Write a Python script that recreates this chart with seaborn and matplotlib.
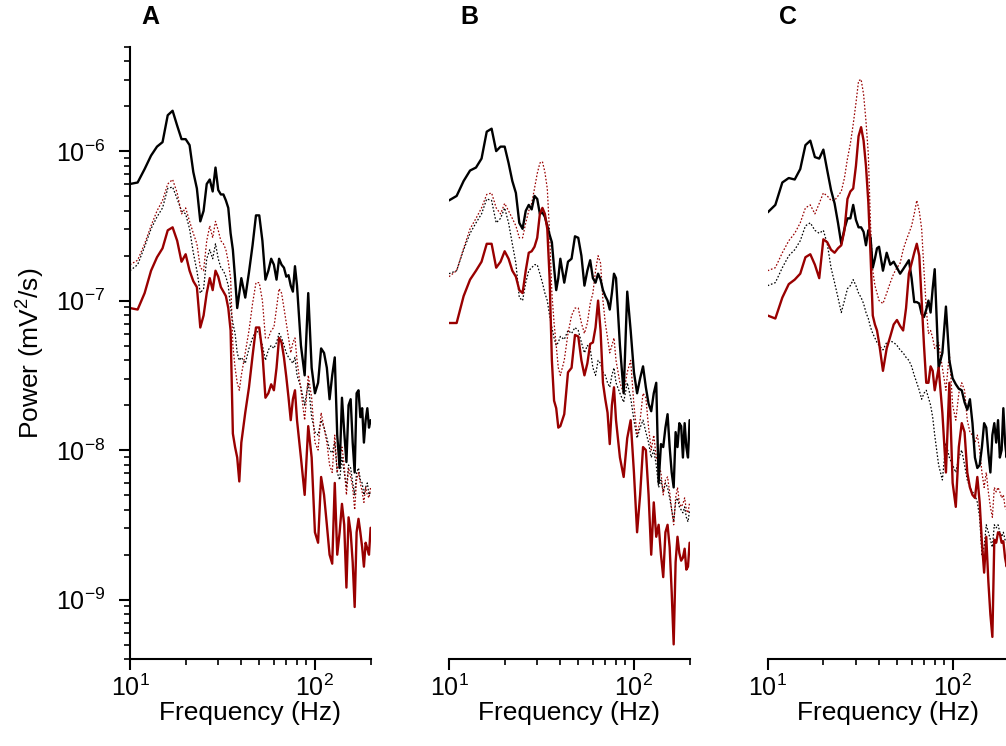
import matplotlib
matplotlib.use('Agg')
import matplotlib.pyplot as plt
import numpy as np
import seaborn as sns

# frequency grid (Hz)
freq = [10, 11, 12, 13, 14, 15, 16, 17, 18, 19,
        20, 21, 22, 23, 24, 25, 26, 27, 28, 29,
        30, 31, 32, 33, 34, 35, 36, 37, 38, 39,
        40, 42, 44, 46, 48, 50, 52, 54, 56, 58,
        60, 62, 64, 66, 68, 70, 72, 74, 76, 78,
        80, 84, 88, 92, 96, 100, 104, 108, 112, 116,
        120, 124, 128, 132, 136, 140, 144, 148, 152, 156,
        160, 164, 168, 172, 176, 180, 184, 188, 192, 196,
        200]

# log10 power (mV^2/s)
a_black = [-6.22, -6.21, -6.12, -6.03, -5.97, -5.94, -5.76, -5.73, -5.83, -5.92,
           -5.92, -5.96, -6.14, -6.25, -6.47, -6.40, -6.22, -6.19, -6.27, -6.11,
           -6.26, -6.29, -6.29, -6.33, -6.38, -6.55, -6.66, -6.85, -7.05, -6.95,
           -6.85, -6.98, -6.81, -6.63, -6.43, -6.43, -6.60, -6.86, -6.80, -6.72,
           -6.76, -6.86, -6.72, -6.76, -6.78, -6.84, -6.83, -6.90, -6.94, -6.77,
           -6.90, -7.30, -7.50, -6.95, -7.45, -7.62, -7.55, -7.32, -7.35, -7.45,
           -7.66, -7.50, -7.38, -7.90, -8.12, -7.65, -7.88, -8.08, -7.70, -7.66,
           -7.95, -8.15, -7.62, -7.60, -7.78, -7.72, -7.95, -7.80, -7.72, -7.85,
           -7.80]
a_red = [-7.05, -7.06, -6.95, -6.80, -6.71, -6.65, -6.53, -6.51, -6.60, -6.74,
         -6.69, -6.80, -6.87, -6.91, -7.18, -7.10, -6.95, -6.85, -6.93, -6.80,
         -6.84, -6.91, -6.94, -6.97, -7.05, -7.20, -7.89, -7.98, -8.05, -8.21,
         -7.95, -7.75, -7.58, -7.37, -7.18, -7.18, -7.35, -7.65, -7.62, -7.56,
         -7.60, -7.45, -7.25, -7.28, -7.38, -7.51, -7.65, -7.80, -7.66, -7.60,
         -7.80, -8.05, -8.30, -7.84, -8.05, -8.55, -8.62, -8.18, -8.30, -8.50,
         -8.70, -8.76, -8.22, -8.70, -8.55, -8.36, -8.50, -8.92, -8.45, -8.55,
         -8.75, -9.05, -8.55, -8.46, -8.55, -8.65, -8.78, -8.62, -8.66, -8.70,
         -8.52]
a_red_dot = [-6.76, -6.73, -6.62, -6.50, -6.40, -6.33, -6.22, -6.19, -6.28, -6.42,
             -6.38, -6.47, -6.55, -6.62, -6.78, -6.80, -6.60, -6.50, -6.58, -6.47,
             -6.53, -6.60, -6.62, -6.66, -6.74, -6.85, -7.30, -7.45, -7.55, -7.60,
             -7.50, -7.35, -7.20, -7.02, -6.88, -6.88, -7.00, -7.25, -7.25, -7.20,
             -7.18, -7.05, -6.92, -6.95, -7.05, -7.15, -7.25, -7.35, -7.28, -7.25,
             -7.40, -7.60, -7.80, -7.50, -7.65, -7.95, -8.00, -7.75, -7.85, -7.95,
             -8.10, -8.15, -7.90, -8.15, -8.05, -7.98, -8.10, -8.30, -8.12, -8.18,
             -8.25, -8.40, -8.20, -8.15, -8.22, -8.28, -8.35, -8.25, -8.30, -8.32,
             -8.25]
a_black_dot = [-6.80, -6.76, -6.64, -6.52, -6.44, -6.38, -6.25, -6.24, -6.32, -6.40,
               -6.42, -6.52, -6.68, -6.80, -6.95, -6.92, -6.72, -6.66, -6.72, -6.62,
               -6.72, -6.78, -6.80, -6.84, -6.90, -7.05, -7.15, -7.22, -7.35, -7.40,
               -7.38, -7.42, -7.32, -7.25, -7.20, -7.22, -7.30, -7.40, -7.33, -7.30,
               -7.32, -7.28, -7.22, -7.25, -7.30, -7.35, -7.38, -7.40, -7.42, -7.38,
               -7.50, -7.58, -7.70, -7.55, -7.78, -7.88, -7.90, -7.80, -7.85, -7.92,
               -8.00, -8.02, -7.95, -8.15, -8.20, -8.05, -8.15, -8.25, -8.10, -8.12,
               -8.22, -8.30, -8.15, -8.12, -8.20, -8.22, -8.30, -8.25, -8.22, -8.30,
               -8.28]

b_black = [-6.33, -6.30, -6.20, -6.13, -6.11, -6.05, -5.87, -5.85, -6.00, -5.97,
           -5.97, -6.08, -6.20, -6.28, -6.48, -6.52, -6.40, -6.36, -6.39, -6.30,
           -6.32, -6.42, -6.41, -6.44, -6.50, -6.56, -6.61, -6.78, -6.93, -6.85,
           -6.72, -6.88, -6.74, -6.72, -6.57, -6.58, -6.70, -6.90, -6.80, -6.73,
           -6.85, -6.88, -6.82, -6.86, -6.93, -6.97, -7.00, -7.06, -6.95, -6.82,
           -6.85, -7.30, -7.62, -6.94, -7.20, -7.48, -7.62, -7.52, -7.44, -7.58,
           -7.69, -7.74, -7.62, -7.55, -8.22, -7.96, -7.98, -7.85, -7.76, -7.98,
           -8.15, -8.25, -7.88, -7.98, -7.82, -7.84, -8.05, -7.82, -7.98, -8.05,
           -7.80]
b_red = [-7.15, -7.15, -6.97, -6.86, -6.80, -6.74, -6.62, -6.62, -6.78, -6.74,
         -6.67, -6.72, -6.80, -6.84, -6.93, -6.95, -6.80, -6.68, -6.67, -6.64,
         -6.58, -6.42, -6.38, -6.42, -6.52, -6.85, -7.40, -7.67, -7.72, -7.85,
         -7.84, -7.76, -7.48, -7.45, -7.23, -7.24, -7.40, -7.50, -7.42, -7.29,
         -7.28, -7.18, -7.00, -7.20, -7.55, -7.66, -7.75, -7.96, -7.70, -7.58,
         -7.80, -8.05, -8.18, -7.92, -7.80, -8.15, -8.55, -8.30, -7.98, -8.00,
         -8.30, -8.70, -8.35, -8.58, -8.50, -8.70, -8.85, -8.55, -8.50, -8.65,
         -8.95, -9.30, -8.75, -8.58, -8.69, -8.74, -8.72, -8.66, -8.80, -8.78,
         -8.62]
b_red_dot = [-6.84, -6.80, -6.65, -6.52, -6.45, -6.38, -6.29, -6.28, -6.38, -6.42,
             -6.35, -6.40, -6.45, -6.50, -6.58, -6.58, -6.48, -6.40, -6.35, -6.25,
             -6.15, -6.08, -6.07, -6.14, -6.25, -6.55, -6.95, -7.15, -7.30, -7.45,
             -7.50, -7.40, -7.22, -7.10, -7.05, -7.05, -7.15, -7.22, -7.15, -7.02,
             -6.95, -6.80, -6.70, -6.75, -7.00, -7.15, -7.25, -7.35, -7.30, -7.25,
             -7.40, -7.55, -7.62, -7.48, -7.40, -7.70, -7.90, -7.80, -7.62, -7.65,
             -7.85, -8.00, -7.90, -8.05, -8.10, -8.15, -8.30, -8.20, -8.18, -8.28,
             -8.40, -8.50, -8.32, -8.25, -8.35, -8.38, -8.36, -8.32, -8.40, -8.42,
             -8.35]
b_black_dot = [-6.82, -6.80, -6.66, -6.55, -6.48, -6.42, -6.32, -6.33, -6.48, -6.45,
               -6.38, -6.48, -6.62, -6.75, -6.98, -7.00, -6.88, -6.80, -6.78, -6.76,
               -6.76, -6.82, -6.88, -6.95, -7.00, -7.10, -7.18, -7.25, -7.30, -7.28,
               -7.24, -7.26, -7.20, -7.22, -7.18, -7.20, -7.28, -7.35, -7.30, -7.32,
               -7.45, -7.50, -7.40, -7.42, -7.48, -7.50, -7.55, -7.58, -7.50, -7.45,
               -7.55, -7.62, -7.68, -7.55, -7.65, -7.80, -7.92, -7.85, -7.80, -7.88,
               -7.95, -8.05, -8.00, -8.10, -8.25, -8.20, -8.28, -8.22, -8.25, -8.32,
               -8.40, -8.48, -8.35, -8.32, -8.38, -8.40, -8.42, -8.38, -8.45, -8.48,
               -8.40]

c_black = [-6.41, -6.36, -6.21, -6.18, -6.19, -6.12, -5.96, -5.93, -6.04, -6.05,
           -5.99, -6.13, -6.26, -6.35, -6.48, -6.62, -6.52, -6.45, -6.45, -6.36,
           -6.46, -6.51, -6.51, -6.54, -6.63, -6.53, -6.58, -6.78, -6.72, -6.65,
           -6.64, -6.80, -6.68, -6.76, -6.74, -6.78, -6.82, -6.79, -6.76, -6.73,
           -6.85, -7.01, -7.01, -7.02, -7.09, -7.11, -7.06, -7.00, -7.08, -6.92,
           -6.79, -7.45, -7.35, -7.04, -7.40, -7.52, -7.56, -7.59, -7.60, -7.68,
           -7.73, -7.66, -7.82, -8.05, -8.12, -8.10, -7.98, -7.82, -7.85, -8.02,
           -8.15, -7.90, -7.82, -7.95, -7.80, -8.05, -8.00, -7.72, -7.95, -8.05,
           -7.90]
c_red = [-7.10, -7.12, -6.98, -6.89, -6.86, -6.82, -6.71, -6.69, -6.76, -6.85,
         -6.59, -6.61, -6.66, -6.68, -6.65, -6.63, -6.53, -6.32, -6.27, -6.25,
         -6.10, -5.90, -5.84, -5.93, -6.10, -6.34, -6.70, -7.10, -7.16, -7.20,
         -7.28, -7.47, -7.32, -7.24, -7.16, -7.13, -7.17, -7.20, -7.05, -6.82,
         -6.75, -6.68, -6.62, -6.70, -7.00, -7.30, -7.55, -7.55, -7.44, -7.47,
         -7.60, -7.45, -7.75, -8.15, -7.55, -8.22, -8.38, -7.98, -7.82, -7.88,
         -8.15, -8.25, -8.30, -8.32, -8.18, -8.35, -8.62, -8.82, -8.58, -8.88,
         -9.10, -9.25, -8.60, -8.62, -8.55, -8.56, -8.62, -8.61, -8.72, -8.78,
         -8.70]
c_red_dot = [-6.80, -6.78, -6.68, -6.60, -6.55, -6.48, -6.38, -6.36, -6.42, -6.35,
             -6.28, -6.30, -6.33, -6.33, -6.30, -6.27, -6.18, -6.05, -5.95, -5.82,
             -5.68, -5.53, -5.52, -5.62, -5.80, -6.02, -6.50, -6.80, -6.90, -6.95,
             -7.00, -7.02, -6.95, -6.88, -6.82, -6.78, -6.75, -6.66, -6.60, -6.55,
             -6.50, -6.42, -6.33, -6.40, -6.52, -6.80, -7.05, -7.22, -7.20, -7.25,
             -7.32, -7.28, -7.45, -7.60, -7.35, -7.70, -7.80, -7.62, -7.55, -7.60,
             -7.80, -7.88, -7.90, -7.95, -7.90, -8.00, -8.15, -8.25, -8.15, -8.28,
             -8.38, -8.45, -8.25, -8.28, -8.25, -8.28, -8.32, -8.30, -8.38, -8.40,
             -8.35]
c_black_dot = [-6.90, -6.88, -6.78, -6.70, -6.66, -6.60, -6.50, -6.48, -6.53, -6.55,
               -6.53, -6.62, -6.78, -6.88, -6.98, -7.08, -7.00, -6.92, -6.90, -6.86,
               -6.90, -6.95, -6.98, -7.02, -7.08, -7.12, -7.18, -7.22, -7.25, -7.28,
               -7.30, -7.33, -7.28, -7.27, -7.28, -7.30, -7.33, -7.35, -7.38, -7.40,
               -7.44, -7.50, -7.55, -7.60, -7.66, -7.62, -7.60, -7.65, -7.70, -7.78,
               -7.90, -8.10, -8.20, -7.95, -8.05, -8.10, -8.15, -8.05, -8.00, -8.10,
               -8.20, -8.25, -8.28, -8.30, -8.35, -8.45, -8.70, -8.65, -8.50, -8.55,
               -8.60, -8.65, -8.50, -8.52, -8.50, -8.55, -8.58, -8.55, -8.60, -8.62,
               -8.58]

panel_letters = ['A', 'B', 'C']

sns.set_style('ticks')
plt.rcParams['font.family'] = ['Liberation Sans', 'DejaVu Sans']
plt.rcParams['mathtext.default'] = 'regular'
for key in ['text.color', 'axes.labelcolor', 'xtick.color', 'ytick.color', 'axes.edgecolor']:
    plt.rcParams[key] = 'black'

RED = '#990000'
DOT = (0, (1.3, 1.5))

panels = [
    (a_black, a_black_dot, a_red, a_red_dot),
    (b_black, b_black_dot, b_red, b_red_dot),
    (c_black, c_black_dot, c_red, c_red_dot),
]
lefts = [0.1292, 0.4463, 0.7631]
letter_x = [0.149, 0.467, 0.783]

fig = plt.figure(figsize=(10.06, 7.46), dpi=100)

for i, (blk, blk_dot, red, red_dot) in enumerate(panels):
    ax = fig.add_axes([lefts[i], 0.1166, 0.2392, 0.8209])
    traces = [(blk_dot, 'black', DOT, 0.9),
              (red_dot, RED, DOT, 0.9),
              (blk, 'black', '-', 1.7),
              (red, RED, '-', 1.7)]
    for vals, col, ls, lw in traces:
        sns.lineplot(x=freq, y=10 ** np.array(vals), ax=ax, color=col,
                     linestyle=ls, linewidth=lw, estimator=None, sort=False)
    ax.set_xscale('log')
    ax.set_yscale('log')
    ax.set_xlim(10, 200)
    ax.set_ylim(4e-10, 5e-6)

    for s in ['top', 'right']:
        ax.spines[s].set_visible(False)
    for s in ['left', 'bottom']:
        ax.spines[s].set_linewidth(1.5)
    ax.tick_params(which='major', length=8, width=1.5, labelsize=18, direction='out')
    ax.tick_params(which='minor', length=4, width=1.2, direction='out')
    ax.tick_params(axis='y', which='major', pad=10)
    ax.set_xlabel('Frequency (Hz)', fontsize=19, labelpad=0)

    if i == 0:
        ax.set_ylabel('Power (mV$^2$/s)', fontsize=19, labelpad=6)
    else:
        ax.spines['left'].set_visible(False)
        ax.tick_params(axis='y', which='both', left=False, labelleft=False)
        ax.set_ylabel('')

    fig.text(letter_x[i], 0.977, panel_letters[i], fontsize=18,
             fontweight='bold', ha='center', va='center')

fig.savefig('out.png', dpi=100)
